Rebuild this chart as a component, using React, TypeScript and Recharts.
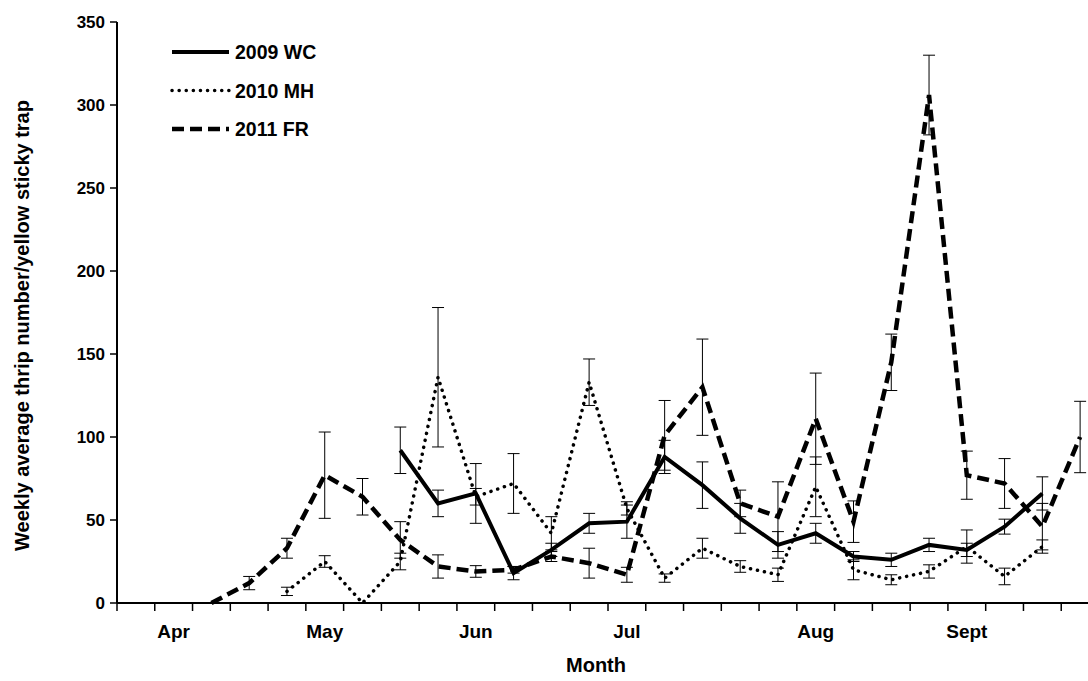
import { LineChart, Line, XAxis, YAxis, ErrorBar, Label } from 'recharts';

// 26 weekly sampling slots, April to the end of September
const WEEKS = [
  'w1', 'w2', 'w3', 'w4', 'w5', 'w6', 'w7', 'w8', 'w9', 'w10', 'w11', 'w12', 'w13',
  'w14', 'w15', 'w16', 'w17', 'w18', 'w19', 'w20', 'w21', 'w22', 'w23', 'w24', 'w25', 'w26',
];
const MONTHS = ['Apr', 'May', 'Jun', 'Jul', 'Aug', 'Sept'];
const MONTH_WEEK = [1, 5, 9, 13, 18, 22];
const Y_TICKS = [0, 50, 100, 150, 200, 250, 300, 350];

const WC_2009 = [
  null, null, null, null, null, null, null, 92, 60, 66, 18, 32, 48,
  49, 88, 71, 51, 35, 42, 28, 26, 35, 32, 46, 66, null,
];
const WC_2009_ERR = [
  null, null, null, null, null, null, null, 14, 8, 18, 4, 4, 6,
  10, 10, 14, 9, 8, 6, 3, 4, 4, 4, 4.5, 10, null,
];
const MH_2010 = [
  null, null, null, null, 7, 25, 0, 25, 136, 64, 72, 42, 133,
  57, 15, 33, 22, 17, 70, 20, 14, 19, 34, 16, 34, null,
];
const MH_2010_ERR = [
  null, null, null, null, 2.5, 3.5, null, 5, 42, 5, 18, 10, 14,
  4, 2.5, 6, 3.5, 4, 18, 6, 3, 4, 10, 5, 4, null,
];
const FR_2011 = [
  null, null, 0, 12, 33, 77, 64, 38, 22, 19, 20, 28, 24,
  17, 101, 130, 60, 52, 111, 49, 145, 306, 77, 72, 46, 100,
];
const FR_2011_ERR = [
  null, null, null, 4, 6, 26, 11, 11, 7, 3.5, 2, 3, 9,
  4.5, 21, 29, 8, 21, 27.5, 12.5, 17, 24, 14.5, 15, 14, 21.5,
];

const SERIES = [
  { key: 'wc', name: '2009 WC', width: 4, dash: undefined as string | undefined, cap: 'butt' },
  { key: 'mh', name: '2010 MH', width: 3.5, dash: '0.1 7', cap: 'round' },
  { key: 'fr', name: '2011 FR', width: 4.5, dash: '12 6', cap: 'butt' },
];

const data = WEEKS.map((w, i) => ({
  week: w,
  x: i + 0.5,
  wc: WC_2009[i],
  wcErr: WC_2009_ERR[i],
  mh: MH_2010[i],
  mhErr: MH_2010_ERR[i],
  fr: FR_2011[i],
  frErr: FR_2011_ERR[i],
}));

const weekBounds = [...WEEKS.map((_, i) => i), WEEKS.length];
const monthTicks = MONTH_WEEK.map((w) => w + 0.5);

const FONT = '"Liberation Sans", Arial, sans-serif';

function monthName(v: number) {
  const idx = monthTicks.indexOf(v);
  return idx >= 0 ? MONTHS[idx] : '';
}

function NoTick() {
  return <g />;
}

function YTitle({ viewBox }: any) {
  const cx = viewBox.x + 22;
  const cy = viewBox.y + viewBox.height / 2 + 13;
  return (
    <text
      x={cx}
      y={cy}
      transform={`rotate(-90 ${cx} ${cy})`}
      textAnchor="middle"
      dominantBaseline="central"
      fontFamily={FONT}
      fontWeight="bold"
      fontSize={20}
      fill="#000"
    >
      Weekly average thrip number/yellow sticky trap
    </text>
  );
}

function XTitle({ viewBox }: any) {
  return (
    <text
      x={viewBox.x + viewBox.width / 2 - 12}
      y={viewBox.y + 59}
      textAnchor="middle"
      fontFamily={FONT}
      fontWeight="bold"
      fontSize={20}
      fill="#000"
    >
      Month
    </text>
  );
}

function LegendBox() {
  return (
    <svg width={340} height={160} style={{ position: 'absolute', left: 0, top: 0 }}>
      {SERIES.map((s, i) => (
        <g key={s.key}>
          <line
            x1={172}
            x2={229}
            y1={52 + i * 38.5}
            y2={52 + i * 38.5}
            stroke="#000"
            strokeWidth={s.width}
            strokeDasharray={s.dash}
            strokeLinecap={s.cap as any}
          />
          <text
            x={235}
            y={52 + i * 38.5}
            dominantBaseline="central"
            fontFamily={FONT}
            fontWeight="bold"
            fontSize={19.5}
            fill="#000"
          >
            {s.name}
          </text>
        </g>
      ))}
    </svg>
  );
}

export default function App() {
  return (
    <div
      style={{
        position: 'fixed',
        left: 0,
        top: 0,
        width: 1088,
        height: 681,
        overflow: 'hidden',
        background: '#fff',
      }}
    >
      <LineChart
        width={1099}
        height={681}
        data={data}
        margin={{ top: 22, right: 0, bottom: 0, left: 0 }}
      >
        <XAxis
          xAxisId="a"
          type="number"
          dataKey="x"
          domain={[0, WEEKS.length]}
          ticks={weekBounds}
          interval={0}
          tick={<NoTick />}
          tickSize={8}
          height={10}
          axisLine={{ stroke: '#000', strokeWidth: 2 }}
          tickLine={{ stroke: '#000', strokeWidth: 1.5 }}
        />
        <XAxis
          xAxisId="b"
          type="number"
          dataKey="x"
          domain={[0, WEEKS.length]}
          ticks={monthTicks}
          interval={0}
          tickFormatter={monthName}
          axisLine={false}
          tickLine={false}
          tickSize={0}
          tickMargin={12}
          height={68}
          tick={{ fill: '#000', fontSize: 19, fontWeight: 'bold', fontFamily: FONT }}
        >
          <Label content={<XTitle />} />
        </XAxis>
        <YAxis
          type="number"
          domain={[0, 350]}
          ticks={Y_TICKS}
          interval={0}
          width={117}
          tickSize={7}
          tickMargin={5}
          axisLine={{ stroke: '#000', strokeWidth: 2 }}
          tickLine={{ stroke: '#000', strokeWidth: 1.5 }}
          tick={{ fill: '#000', fontSize: 17, fontWeight: 'bold', fontFamily: FONT }}
        >
          <Label content={<YTitle />} />
        </YAxis>
        {SERIES.map((s) => (
          <Line
            key={s.key}
            xAxisId="a"
            type="linear"
            dataKey={s.key}
            name={s.name}
            stroke="#000"
            strokeWidth={s.width}
            strokeDasharray={s.dash}
            strokeLinecap={s.cap as any}
            dot={false}
            activeDot={false}
            isAnimationActive={false}
          >
            <ErrorBar
              dataKey={`${s.key}Err`}
              direction="y"
              width={6}
              stroke="#000"
              strokeWidth={1}
              isAnimationActive={false}
            />
          </Line>
        ))}
      </LineChart>
      <LegendBox />
    </div>
  );
}
